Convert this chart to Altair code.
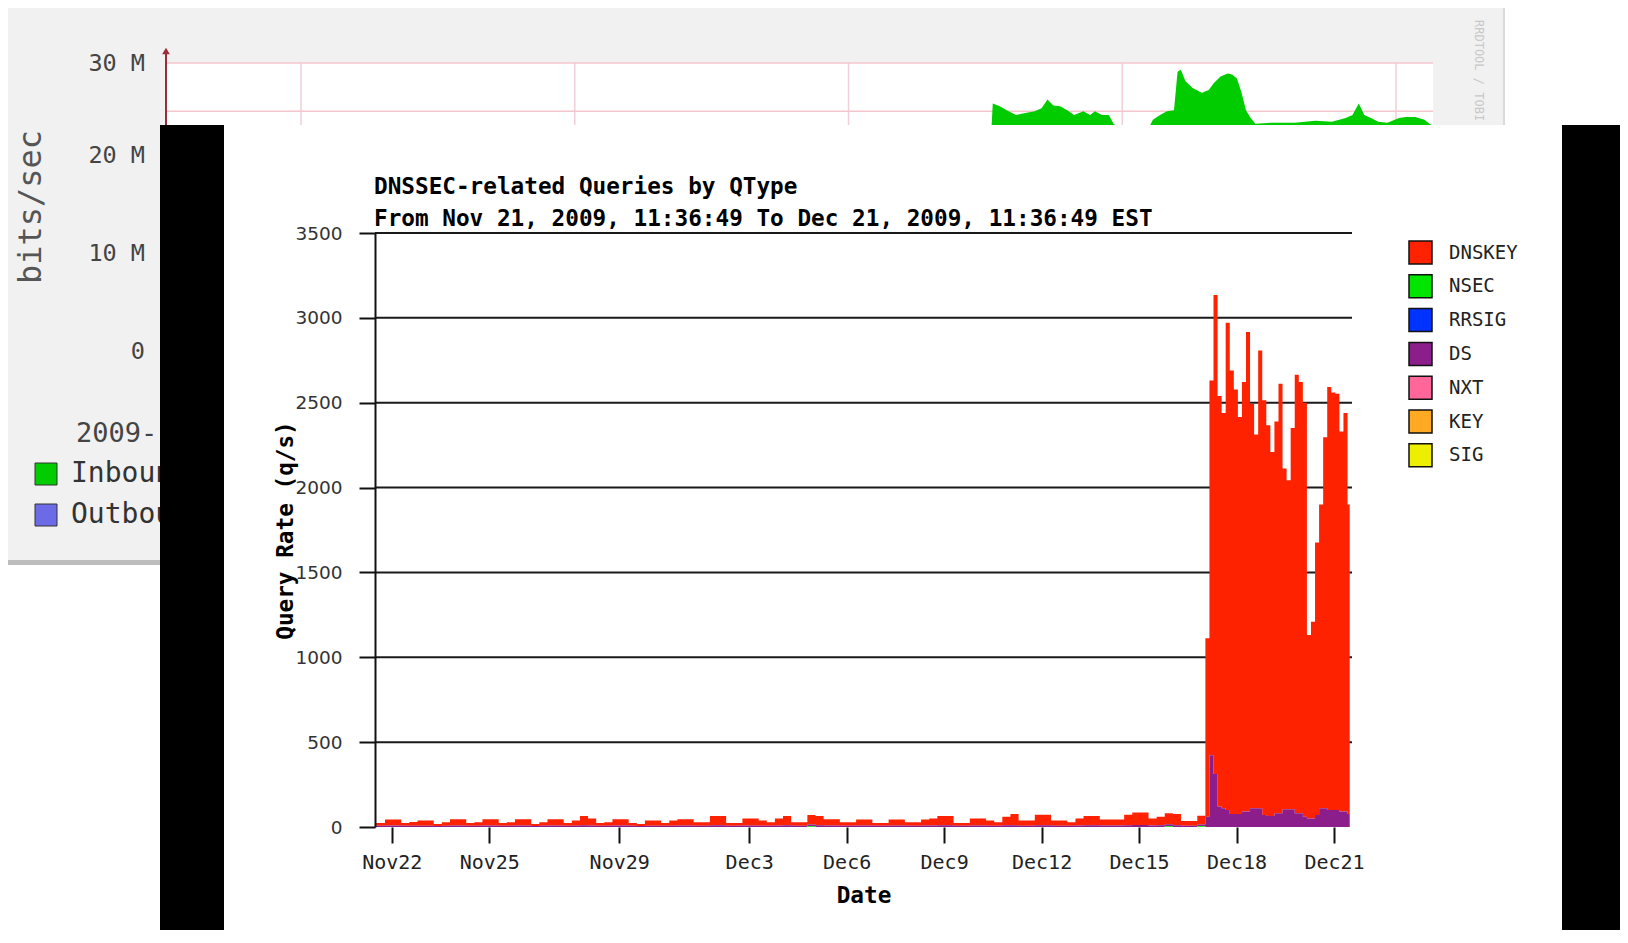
import json
import altair as alt
import pandas as pd

# ------------------------------------------------------------------
# Main chart data: DNSSEC-related queries by QType (queries / second)
# x = hours since 2009-11-22 00:00 EST
# ------------------------------------------------------------------
START_H = -12.387          # Nov 21, 2009 11:36:49
END_H = 707.613            # Dec 21, 2009 11:36:49
X_END = 709.3

low_hours = list(range(-17, 601, 6))      # 6-hour readings before the surge
peak_hours = list(range(601, 707, 3))     # 3-hour readings during the surge

low_dnskey = [16, 16, 35, 35, 16, 22, 31, 31, 12, 21,
              37, 37, 16, 21, 37, 37, 16, 21, 37, 37,
              12, 21, 37, 37, 16, 31, 55, 41, 16, 21,
              37, 37, 16, 12, 31, 31, 16, 31, 37, 37,
              21, 21, 55, 55, 16, 16, 41, 41, 31, 21,
              41, 55, 21, 21, 55, 55, 37, 37, 21, 21,
              35, 35, 16, 16, 35, 35, 21, 21, 35, 41,
              55, 55, 16, 16, 41, 41, 31, 21, 51, 65,
              31, 31, 61, 61, 31, 31, 21, 41, 55, 55,
              35, 35, 35, 61, 74, 74, 41, 51, 65, 65,
              27, 27, 51]
low_ds = [7, 7, 9, 9, 7, 7, 8, 8, 6, 7,
          9, 9, 7, 7, 9, 9, 7, 7, 9, 9,
          6, 7, 9, 9, 7, 8, 10, 9, 7, 7,
          9, 9, 7, 6, 8, 8, 7, 8, 9, 9,
          7, 7, 10, 10, 7, 7, 9, 9, 8, 7,
          9, 10, 7, 7, 10, 10, 9, 9, 7, 7,
          9, 9, 7, 7, 9, 9, 7, 7, 9, 9,
          10, 10, 7, 7, 9, 9, 8, 7, 10, 11,
          8, 8, 11, 11, 8, 8, 7, 9, 10, 10,
          9, 9, 9, 11, 12, 12, 9, 10, 11, 11,
          8, 8, 10]
nsec_hours = [307, 571, 595]
nsec_values = [5, 5, 5]

peak_dnskey = [1052, 2208, 2823, 2418, 2328, 2871, 2613, 2501, 2339, 2531,
               2825, 2383, 2201, 2697, 2443, 2302, 2145, 2309, 2531, 2007,
               1938, 2246, 2584, 2541, 2440, 1081, 1160, 1605, 1789, 2185,
               2492, 2460, 2453, 2240, 2348, 1823]
peak_ds = [60, 423, 312, 121, 111, 100, 77, 77, 77, 91,
           91, 111, 111, 111, 71, 65, 65, 81, 81, 105,
           105, 105, 81, 81, 60, 50, 50, 71, 111, 111,
           100, 100, 100, 91, 91, 77]

qtypes = ["DNSKEY", "NSEC", "RRSIG", "DS", "NXT", "KEY", "SIG"]
qcolors = ["#ff2200", "#00e600", "#0033ff", "#8b1e8b", "#ff6699", "#ffaa22", "#eeee00"]
stack_rank = {"NSEC": 0, "DS": 1, "DNSKEY": 2}

x_tick_hours = [0, 72, 168, 264, 336, 408, 480, 552, 624, 696]
x_tick_labels = ["Nov22", "Nov25", "Nov29", "Dec3", "Dec6", "Dec9",
                 "Dec12", "Dec15", "Dec18", "Dec21"]
y_ticks = [0, 500, 1000, 1500, 2000, 2500, 3000, 3500]

title_line1 = "DNSSEC-related Queries by QType"
title_line2 = "From Nov 21, 2009, 11:36:49 To Dec 21, 2009, 11:36:49 EST"

# ------------------------------------------------------------------
# Background (partially hidden) traffic graph: Inbound, Mbits/s
# ------------------------------------------------------------------
bg_day = [2.52, 2.527, 2.553, 2.578, 2.612, 2.646, 2.680, 2.705, 2.727, 2.748,
          2.773, 2.799, 2.824, 2.858, 2.883, 2.900, 2.926, 2.951, 2.968, 3.028,
          3.083, 3.112, 3.138, 3.163, 3.189, 3.202, 3.214, 3.231, 3.257, 3.291,
          3.316, 3.334, 3.359, 3.385, 3.401, 3.419, 3.435, 3.452, 3.469, 3.486,
          3.545, 3.630, 3.706, 3.766, 3.816, 3.841, 3.864, 3.884, 3.909, 3.935,
          3.969, 4.011, 4.036, 4.070, 4.104, 4.122, 4.135]
bg_mbps = [22.0, 25.8, 25.5, 25.1, 24.6, 24.8, 25.0, 25.3, 26.2, 25.6,
           25.5, 25.1, 24.6, 25.0, 24.6, 25.0, 24.6, 24.6, 23.7, 22.5,
           22.5, 24.1, 24.6, 25.0, 25.1, 29.1, 29.3, 28.1, 27.4, 26.9,
           27.2, 27.9, 28.6, 28.9, 28.8, 28.4, 27.0, 25.1, 24.3, 23.7,
           23.8, 23.8, 24.0, 23.9, 24.3, 24.6, 25.8, 24.6, 24.3, 23.9,
           23.8, 24.3, 24.4, 24.4, 24.1, 23.7, 23.5]
bg_grid_days = [0, 1, 2, 3, 4]
bg_grid_mbps = [30, 25]
bg_y_labels = ["30 M", "20 M", "10 M", "0"]

# ------------------------------------------------------------------
# Build tables
# ------------------------------------------------------------------
all_hours = low_hours + peak_hours + [END_H]
nsec_low = [nsec_values[nsec_hours.index(h)] if h in nsec_hours else 0 for h in low_hours]
series = {
    "DNSKEY": low_dnskey + peak_dnskey + [peak_dnskey[-1]],
    "DS": low_ds + peak_ds + [peak_ds[-1]],
    "NSEC": nsec_low + [0] * len(peak_hours) + [0],
}
rows = []
for name, vals in series.items():
    for h, v in zip(all_hours, vals):
        rows.append({"hour": h, "value": v, "qtype": name, "ord": stack_rank[name]})
df = pd.DataFrame(rows)
grid_df = pd.DataFrame({"value": y_ticks[1:]})
bg_df = pd.DataFrame({"day": bg_day, "mbps": bg_mbps})

# ------------------------------------------------------------------
# Styling / layout helpers
# ------------------------------------------------------------------
MONO = "DejaVu Sans Mono"
W, H = 977, 594
OX, OY = 375, 233          # page position of the plot origin
SVG_W, SVG_H = 1612, 922   # keep inside the window (8px page margin)
one = alt.Data(values=[{"k": 0}])


def px(x):
    return x - OX


def py(y):
    return y - OY


def rect(x0, y0, x1, y1, color, stroke=None):
    kw = dict(color=color)
    if stroke:
        kw.update(stroke=stroke, strokeWidth=1)
    return alt.Chart(one).mark_rect(**kw).encode(
        x=alt.value(px(x0)), x2=alt.value(px(x1)),
        y=alt.value(py(y0)), y2=alt.value(py(y1)))


def text(s, x, y, size, color="#000", font=MONO, align="left", weight="normal", angle=0):
    return alt.Chart(one).mark_text(
        text=s, align=align, baseline="middle", fontSize=size, font=font,
        color=color, fontWeight=weight, angle=angle).encode(
        x=alt.value(px(x)), y=alt.value(py(y)))


# ---- background graph (independent scales mapped to pixel ranges) ----
bg_x = alt.X("day:Q", scale=alt.Scale(domain=[0, 4], range=[px(301), px(1396)], nice=False, zero=False), axis=None)
bg_y_scale = alt.Scale(domain=[0, 30], range=[py(352), py(63)], nice=False, zero=False)

bg_vgrid = alt.Chart(pd.DataFrame({"day": bg_grid_days})).mark_rule(
    color="#f0cfd6", strokeWidth=1.5).encode(
    x=bg_x, y=alt.value(py(63)), y2=alt.value(py(200)))
bg_hgrid = alt.Chart(pd.DataFrame({"mbps": bg_grid_mbps})).mark_rule(
    color="#f3c6cc", strokeWidth=1.5).encode(
    y=alt.Y("mbps:Q", scale=bg_y_scale, axis=None),
    x=alt.value(px(166)), x2=alt.value(px(1433)))
bg_area = alt.Chart(bg_df).mark_area(color="#00cc00", opacity=1).encode(
    x=bg_x, y=alt.Y("mbps:Q", scale=bg_y_scale, axis=None))
bg = alt.layer(bg_vgrid, bg_hgrid, bg_area)

arrow_line = rect(165, 52, 167, 200, "#9c2c3c")
arrow_head = alt.Chart(one).mark_point(shape="triangle-up", filled=True, size=60,
                                       color="#9c2c3c", opacity=1).encode(
    x=alt.value(px(166)), y=alt.value(py(51)))

pre = [
    rect(8, 5, 1505, 563, "#f1f1f1"),
    rect(1503, 5, 1505, 563, "#dadada"),
    rect(8, 560, 1505, 565, "#bdbdbd"),
    rect(166, 63, 1433, 300, "#ffffff"),
    bg,
    arrow_line,
    arrow_head,
    text(bg_y_labels[0], 145, 64, 23.5, "#444", align="right"),
    text(bg_y_labels[1], 145, 156, 23.5, "#444", align="right"),
    text(bg_y_labels[2], 145, 254, 23.5, "#444", align="right"),
    text(bg_y_labels[3], 145, 352, 23.5, "#444", align="right"),
    text("bits/sec", 31, 207, 32, "#555", angle=270, align="center"),
    text("2009-12-21 11:36", 76, 434, 27, "#444"),
    rect(35, 463, 57, 485, "#00cc00", stroke="#333"),
    text("Inbound", 71, 474, 28, "#333"),
    rect(35, 504, 57, 526, "#6b6be8", stroke="#333"),
    text("Outbound", 71, 515, 28, "#333"),
    text("RRDTOOL / TOBI OETIKER", 1479, 20, 12, "#c8c8c8", angle=90),
    rect(224, 125, 1562, 960, "#ffffff"),
    rect(160, 125, 224, 960, "#000000"),
    rect(1562, 125, 1640, 960, "#000000"),
]

# ---- main chart ----
label_expr = "{}[indexof({}, datum.value)]".format(json.dumps(x_tick_labels), json.dumps(x_tick_hours))

x_axis = alt.Axis(values=x_tick_hours, labelExpr=label_expr, title="Date",
                  titleFont=MONO, titleFontSize=22.7, titleFontWeight="bold", titleColor="#000",
                  titleY=68, titleBaseline="middle",
                  labelFont=MONO, labelFontSize=20, labelColor="#222", labelPadding=9,
                  labelFlush=False, labelOverlap=False,
                  tickSize=16, tickColor="#111", tickWidth=2,
                  domain=False, grid=False, zindex=1)
y_axis = alt.Axis(values=y_ticks, format="d", title="Query Rate (q/s)",
                  titleFont=MONO, titleFontSize=22.7, titleFontWeight="bold", titleColor="#000",
                  titleX=-90, titleY=H / 2, titleAngle=270, titleBaseline="middle", titleAlign="center",
                  labelFont="DejaVu Sans", labelFontSize=18.5, labelColor="#333", labelPadding=17,
                  tickSize=16, tickColor="#111", tickWidth=2,
                  domainColor="#111", domainWidth=2, grid=False, zindex=1)
y_scale = alt.Scale(domain=[0, 3500], nice=False, zero=True)

legend = alt.Legend(orient="none", legendX=1033, legendY=7, title=None,
                    symbolType="square", symbolSize=529, symbolStrokeColor="#111",
                    symbolStrokeWidth=1.5, symbolOpacity=1,
                    labelFont=MONO, labelFontSize=19, labelColor="#222", labelOffset=16,
                    rowPadding=4.8, zindex=1)

grid = alt.Chart(grid_df).mark_rule(color="#1a1a1a", strokeWidth=2).encode(
    y=alt.Y("value:Q", scale=y_scale, axis=y_axis),
    x=alt.value(0), x2=alt.value(W))

areas = alt.Chart(df).mark_area(interpolate="step-after", clip=True, opacity=1).encode(
    x=alt.X("hour:Q", scale=alt.Scale(domain=[START_H, X_END], nice=False, zero=False), axis=x_axis),
    y=alt.Y("value:Q", stack="zero", scale=y_scale, axis=y_axis),
    color=alt.Color("qtype:N", scale=alt.Scale(domain=qtypes, range=qcolors), legend=legend),
    order=alt.Order("ord:Q", sort="ascending"),
)
main = alt.layer(grid, areas)

post = [
    text(title_line1, 374, 187, 22.7, "#000", weight="bold"),
    text(title_line2, 374, 219, 22.7, "#000", weight="bold"),
]

chart = alt.layer(*pre, main, *post).resolve_scale(
    x="independent", y="independent"
).properties(
    width=W, height=H,
    padding={"left": OX - 8, "top": OY - 8,
             "right": SVG_W - (OX - 8) - W, "bottom": SVG_H - (OY - 8) - H},
    autosize=alt.AutoSizeParams(type="none"),
    background="#ffffff",
).configure_view(stroke=None)

chart.save("out.html", embed_options={"renderer": "svg", "actions": False})
